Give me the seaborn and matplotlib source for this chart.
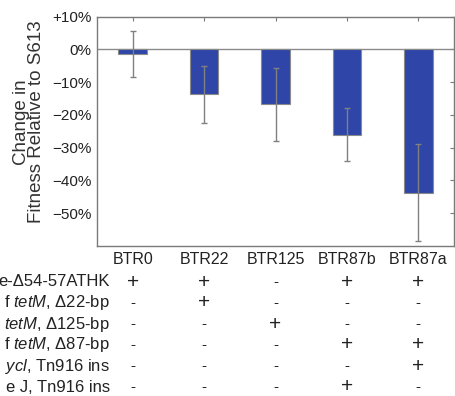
import pandas as pd
import seaborn as sns
import matplotlib.pyplot as plt
from matplotlib.transforms import blended_transform_factory

# Data
strains = ['BTR0', 'BTR22', 'BTR125', 'BTR87b', 'BTR87a']
change = [-1.4, -13.7, -16.8, -26.0, -43.7]
err = [7.0, 8.8, 11.1, 8.1, 14.7]

row_labels = [
    'e-Δ54-57ATHK',
    r'f $\mathit{tetM}$, Δ22-bp',
    r'$\mathit{tetM}$, Δ125-bp',
    r'f $\mathit{tetM}$, Δ87-bp',
    r'$\mathit{ycl}$, Tn916 ins',
    'e J, Tn916 ins',
]
marks = [
    ['+', '+', '-', '+', '+'],
    ['-', '+', '-', '-', '-'],
    ['-', '-', '+', '-', '-'],
    ['-', '-', '-', '+', '+'],
    ['-', '-', '-', '-', '+'],
    ['-', '-', '-', '+', '-'],
]

ytick_vals = [10, 0, -10, -20, -30, -40, -50]
ytick_labels = ['+10%', '0%', '\u221210%', '\u221220%', '\u221230%', '\u221240%', '\u221250%']

sns.set_style('white')
plt.rcParams['font.family'] = ['Liberation Sans', 'DejaVu Sans']
plt.rcParams['mathtext.fontset'] = 'custom'
plt.rcParams['mathtext.rm'] = 'Liberation Sans'
plt.rcParams['mathtext.it'] = 'Liberation Sans:italic'

df = pd.DataFrame({'strain': strains, 'change': change})

fig = plt.figure(figsize=(4.55, 3.96), dpi=100)
ax = fig.add_axes([97 / 455, 1 - 246 / 396, (454 - 97) / 455, (246 - 16.7) / 396])

sns.barplot(data=df, x='strain', y='change', color='#2f46a8', saturation=1,
            width=0.4, edgecolor='#8a8a8a', linewidth=0.8, ax=ax, zorder=2)
eb = ax.errorbar(range(len(strains)), change, yerr=err, fmt='none',
                 ecolor='#808080', elinewidth=1.0, capsize=2.5, capthick=1.0, zorder=3)
for cap in eb[1]:
    cap.set_color('#222222')

ax.axhline(0, color='#8a8a8a', lw=1.0, zorder=1)
ax.set_xlim(-0.5, 4.5)
ax.set_ylim(-60, 10)
ax.set_yticks(ytick_vals)
ax.set_yticklabels(ytick_labels)
ax.set_xlabel('')
ax.set_ylabel('Change in\nFitness Relative to S613', fontsize=13.5, color='#333333',
              linespacing=0.9)
ax.yaxis.set_label_coords(-0.145, 0.54)

for s in ax.spines.values():
    s.set_color('#7a7a7a')
    s.set_linewidth(1.0)
ax.tick_params(direction='in', length=3, width=0.8, color='#7a7a7a',
               top=True, right=True, labelsize=11, labelcolor='#222222', pad=4)
ax.tick_params(axis='x', labelsize=11.5)

# Table of mutations under the bars
trans = blended_transform_factory(ax.transData, fig.transFigure)
row_y = [282, 303, 324, 345, 366, 387]
for lab, ry, row in zip(row_labels, row_y, marks):
    fy = 1 - ry / 396
    fig.text(110 / 455, fy, lab, ha='right', va='center', fontsize=12, color='#222222')
    for i, m in enumerate(row):
        ax.text(i, fy, m, transform=trans, ha='center', va='center',
                fontsize=15 if m == '+' else 11, color='#222222')

fig.savefig('out.png', dpi=100)
